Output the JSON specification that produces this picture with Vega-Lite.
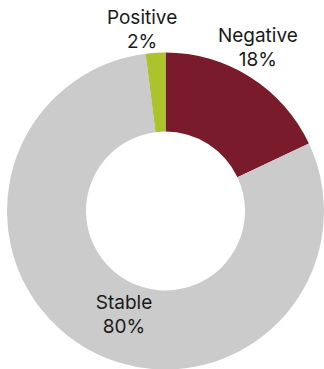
{
  "$schema": "https://vega.github.io/schema/vega-lite/v6.json",
  "width": 331,
  "height": 422,
  "padding": 0,
  "autosize": "none",
  "background": "white",
  "config": {"view": {"stroke": null}, "font": "Inter"},
  "data": {
    "values": [
      {"category": "Negative", "value": 18, "order": 1, "label": "Negative\n18%"},
      {"category": "Stable", "value": 80, "order": 2, "label": "Stable\n80%"},
      {"category": "Positive", "value": 2, "order": 3, "label": "Positive\n2%"}
    ]
  },
  "encoding": {
    "theta": {"field": "value", "type": "quantitative", "stack": true},
    "order": {"field": "order", "type": "quantitative"}
  },
  "layer": [
    {
      "mark": {"type": "arc", "outerRadius": 158.5, "innerRadius": 79.5},
      "encoding": {
        "color": {
          "field": "category",
          "type": "nominal",
          "scale": {"domain": ["Negative", "Stable", "Positive"], "range": ["#7A1B2B", "#CBCBCB", "#ADC32B"]},
          "legend": null
        }
      }
    },
    {
      "mark": {"type": "text", "radius": 191, "dx": -10, "dy": -14, "fontSize": 19, "lineBreak": "\n", "lineHeight": 24, "align": "center", "baseline": "middle", "color": "#1a1a1a"},
      "encoding": {"text": {"condition": {"test": "datum.category === 'Negative'", "field": "label"}, "value": ""}}
    },
    {
      "mark": {"type": "text", "radius": 182, "dx": -12, "dy": -11, "fontSize": 19, "lineBreak": "\n", "lineHeight": 24, "align": "center", "baseline": "middle", "color": "#1a1a1a"},
      "encoding": {"text": {"condition": {"test": "datum.category === 'Positive'", "field": "label"}, "value": ""}}
    },
    {
      "mark": {"type": "text", "radius": 111, "dx": 12, "dy": -5, "fontSize": 19, "lineBreak": "\n", "lineHeight": 24, "align": "center", "baseline": "middle", "color": "#1a1a1a"},
      "encoding": {"text": {"condition": {"test": "datum.category === 'Stable'", "field": "label"}, "value": ""}}
    }
  ]
}
